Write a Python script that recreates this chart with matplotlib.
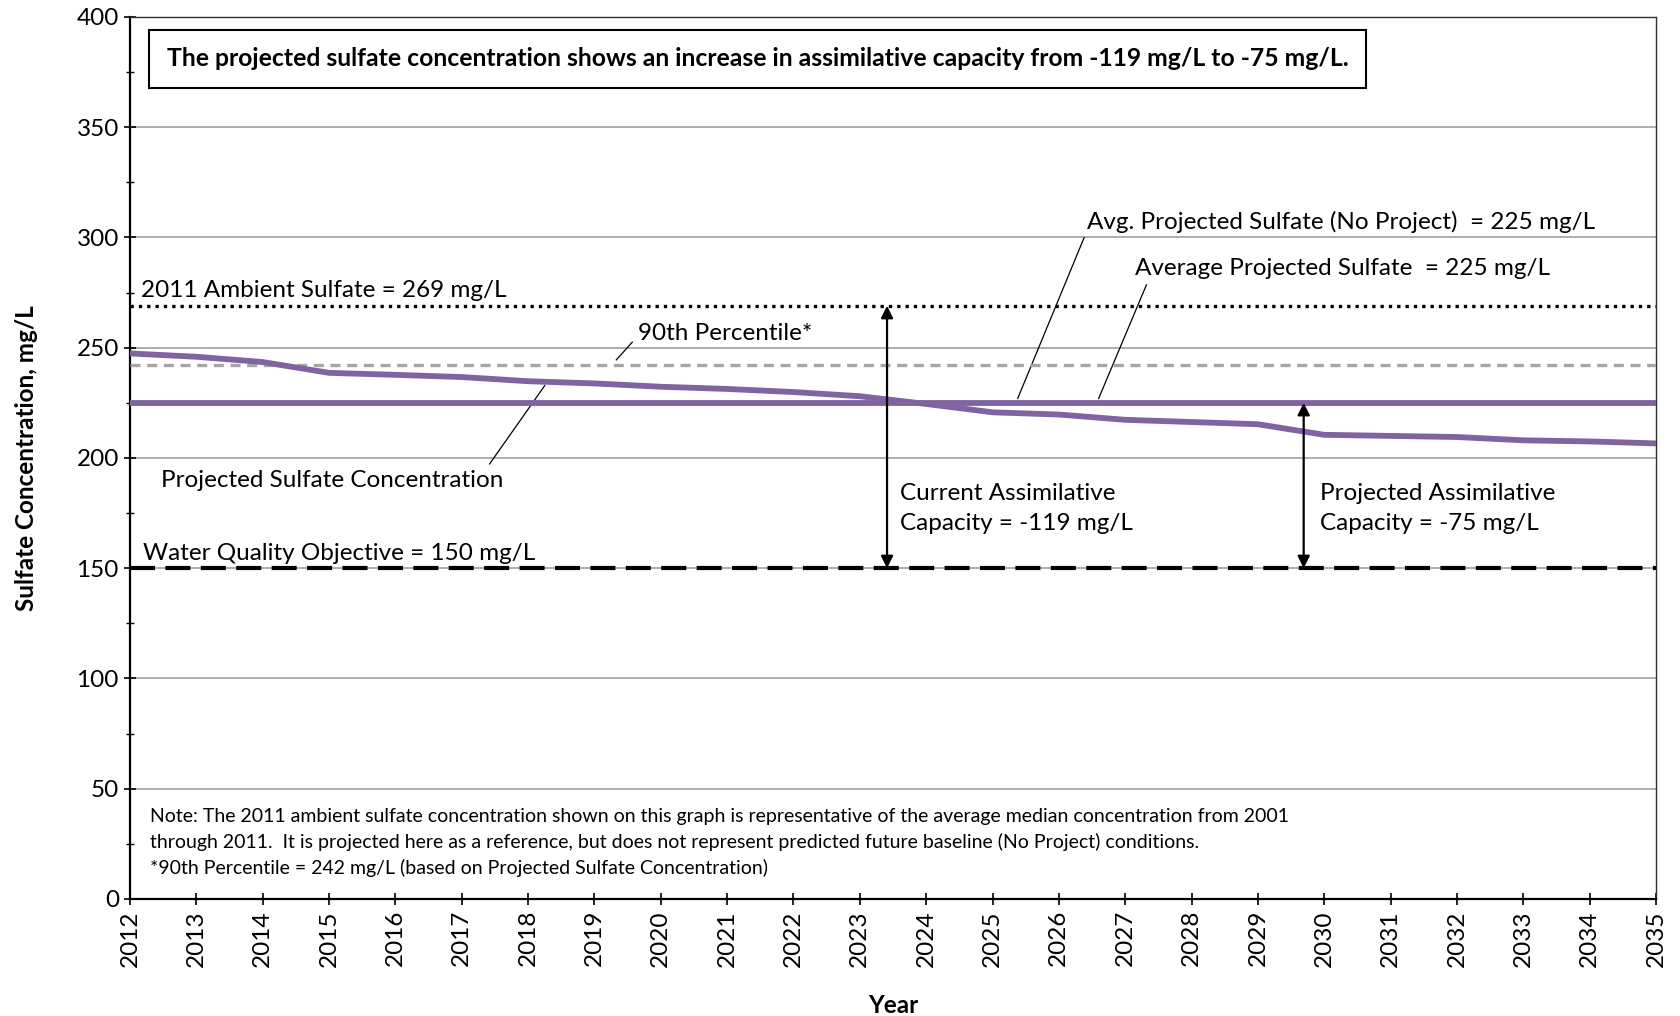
import matplotlib
matplotlib.use("Agg")
import matplotlib.pyplot as plt
from matplotlib.ticker import MultipleLocator

plt.rcParams['font.family'] = ['Lato', 'DejaVu Sans']

years = list(range(2012, 2036))
projected = [247.4, 245.9, 243.5, 238.6, 237.7, 236.7, 234.8, 233.8, 232.3, 231.3,
             229.9, 228.0, 224.5, 220.7, 219.7, 217.3, 216.3, 215.3, 210.5, 210.0,
             209.5, 208.0, 207.5, 206.6]
avg_projected = 225
avg_no_project = 225
ambient_2011 = 269
pct90 = 242
wqo = 150

fig = plt.figure(figsize=(16.8, 10.16), dpi=100)
ax = fig.add_axes([0.0774, 0.1152, 0.9083, 0.8681])

purple = '#8064A2'
ax.set_xlim(2012, 2035)
ax.set_ylim(0, 400)
ax.yaxis.set_major_locator(MultipleLocator(50))
ax.yaxis.set_minor_locator(MultipleLocator(25))
ax.set_xticks(years)
ax.set_xticklabels([str(y) for y in years], rotation=90)
ax.grid(axis='y', which='major', color='#A0A0A0', lw=1.2)
ax.set_axisbelow(True)
ax.tick_params(axis='both', which='major', labelsize=17.5, direction='inout', length=9, width=1.2)
ax.tick_params(axis='y', which='minor', direction='inout', length=6, width=1.0)
for s in ['left', 'bottom']:
    ax.spines[s].set_linewidth(1.6)
for s in ['top', 'right']:
    ax.spines[s].set_linewidth(1.0)
    ax.spines[s].set_color('#303030')

ax.plot(years, [ambient_2011] * len(years), color='black', ls=(0, (1, 1.5)), lw=2.4, zorder=3)
ax.plot(years, [pct90] * len(years), color='#A6A6A6', ls=(0, (3, 2)), lw=2.4, zorder=3)
ax.plot(years, [wqo] * len(years), color='black', ls=(0, (6, 2.5)), lw=3.0, zorder=3)
ax.plot(years, [avg_no_project] * len(years), color=purple, lw=4.2, zorder=4)
ax.plot(years, projected, color=purple, lw=4.2, zorder=5, solid_capstyle='round')

# arrows
arr = dict(arrowstyle='<|-|>', color='black', lw=1.6, mutation_scale=18, shrinkA=0, shrinkB=0)
ax.annotate('', xy=(2023.41, ambient_2011), xytext=(2023.41, wqo), arrowprops=arr, zorder=6)
ax.annotate('', xy=(2029.69, avg_projected), xytext=(2029.69, wqo), arrowprops=arr, zorder=6)

fs = 17.5
ax.text(2012.16, 271, '2011 Ambient Sulfate = 269 mg/L', fontsize=fs, va='bottom')
ax.text(2019.65, 256.6, '90th Percentile*', fontsize=fs, va='center')
ax.plot([2019.33, 2019.57], [244.5, 252.5], color='black', lw=0.9)
ax.text(2012.47, 190, 'Projected Sulfate Concentration', fontsize=fs, va='center')
ax.plot([2017.42, 2018.25], [197.3, 232.8], color='black', lw=0.9)
ax.text(2026.43, 307, 'Avg. Projected Sulfate (No Project)  = 225 mg/L', fontsize=fs, va='center')
ax.plot([2025.38, 2026.38], [227, 299.9], color='black', lw=0.9)
ax.text(2027.15, 285.8, 'Average Projected Sulfate  = 225 mg/L', fontsize=fs, va='center')
ax.plot([2026.6, 2027.32], [227, 278.5], color='black', lw=0.9)
ax.text(2023.6, 177, 'Current Assimilative\nCapacity = -119 mg/L', fontsize=fs, va='center', linespacing=1.55)
ax.text(2029.93, 177, 'Projected Assimilative\nCapacity = -75 mg/L', fontsize=fs, va='center', linespacing=1.55)
ax.text(2012.2, 156.5, 'Water Quality Objective = 150 mg/L', fontsize=fs, va='center')

nfs = 14
ax.text(2012.3, 37.4, 'Note: The 2011 ambient sulfate concentration shown on this graph is representative of the average median concentration from 2001',
        fontsize=nfs, va='center')
ax.text(2012.3, 25.8, 'through 2011.  It is projected here as a reference, but does not represent predicted future baseline (No Project) conditions.',
        fontsize=nfs, va='center')
ax.text(2012.3, 14.1, '*90th Percentile = 242 mg/L (based on Projected Sulfate Concentration)',
        fontsize=nfs, va='center')

ax.text(2012.55, 381, 'The projected sulfate concentration shows an increase in assimilative capacity from -119 mg/L to -75 mg/L.',
        fontsize=17.8, fontweight='bold', va='center',
        bbox=dict(boxstyle='square,pad=0.72', fc='white', ec='black', lw=1.5))

ax.set_xlabel('Year', fontsize=17.5, fontweight='bold', labelpad=20)
ax.set_ylabel('Sulfate Concentration, mg/L', fontsize=17.5, fontweight='bold', labelpad=28)

fig.text(0.525, 0.9966, '2012-2035', fontsize=18, fontweight='bold', ha='center', va='bottom')

fig.savefig('out.png', dpi=100)
